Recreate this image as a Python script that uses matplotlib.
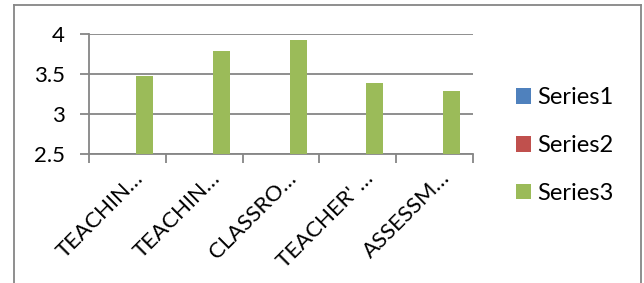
import matplotlib
matplotlib.use("Agg")
import matplotlib.pyplot as plt
import numpy as np
from matplotlib.patches import Patch
from matplotlib.lines import Line2D
import matplotlib.transforms as mtransforms

categories = ["TEACHIN…", "TEACHIN…", "CLASSRO…", "TEACHER' …", "ASSESSM…"]
series1 = [np.nan, np.nan, np.nan, np.nan, np.nan]
series2 = [np.nan, np.nan, np.nan, np.nan, np.nan]
series3 = [3.47, 3.79, 3.92, 3.39, 3.29]
series_names = ["Series1", "Series2", "Series3"]
colors = ["#4F81BD", "#C0504D", "#9BBB59"]
yticks = [2.5, 3, 3.5, 4]
ytick_labels = ["2.5", "3", "3.5", "4"]

plt.rcParams['font.family'] = ['Lato', 'DejaVu Sans']
W, H = 644, 283
fig = plt.figure(figsize=(W/100, H/100), dpi=100)
fig.patch.set_facecolor("white")

ax = fig.add_axes([89/W, 1-154/H, (473-89)/W, (154-34)/H])
x = np.arange(len(categories))
bw = 1/4.5
for i, (vals, c) in enumerate(zip([series1, series2, series3], colors)):
    ax.bar(x + (i-1)*bw, vals, width=bw, color=c, bottom=0, label=series_names[i], zorder=3)

gray = "#868686"
ax.set_xlim(-0.5, len(categories)-0.5)
ax.set_ylim(2.5, 4)
ax.set_yticks(yticks)
ax.set_yticklabels(ytick_labels, fontsize=16)
ax.yaxis.grid(True, color=gray, linewidth=1.3, zorder=0)
ax.set_xticks(np.arange(len(categories)+1)-0.5)
ax.set_xticklabels([])
ax.tick_params(axis='x', length=6.5, width=1.3, color=gray, direction='out')
ax.tick_params(axis='y', length=6.5, width=1.3, color=gray, direction='out', pad=11)
for s in ['top', 'right']:
    ax.spines[s].set_visible(False)
for s in ['left', 'bottom']:
    ax.spines[s].set_color(gray)
    ax.spines[s].set_linewidth(1.3)

# category labels
offset = mtransforms.ScaledTranslation(9/72, -15/72, fig.dpi_scale_trans)
for xi, lab in zip(x, categories):
    ax.text(xi, 2.5, lab, rotation=45, ha='right', va='center', rotation_mode='anchor',
            fontsize=16, transform=ax.transData + offset, clip_on=False)

handles = [Patch(facecolor=c, edgecolor='none') for c in colors]
fig.legend(handles, series_names, loc='center left', bbox_to_anchor=(506.6/W, 1-145.5/H),
           frameon=False, fontsize=17, handlelength=0.64, handleheight=0.64,
           handletextpad=0.25, labelspacing=1.14, borderaxespad=0)

# outer border
fig.add_artist(Line2D([13.5/W, 13.5/W], [0, 1-4.5/H], color=gray, lw=1.3, transform=fig.transFigure))
fig.add_artist(Line2D([13.5/W, 640.5/W], [1-4.5/H, 1-4.5/H], color=gray, lw=1.3, transform=fig.transFigure))
fig.add_artist(Line2D([640.5/W, 640.5/W], [0, 1-4.5/H], color=gray, lw=1.3, transform=fig.transFigure))

fig.savefig("out.png", dpi=100)
